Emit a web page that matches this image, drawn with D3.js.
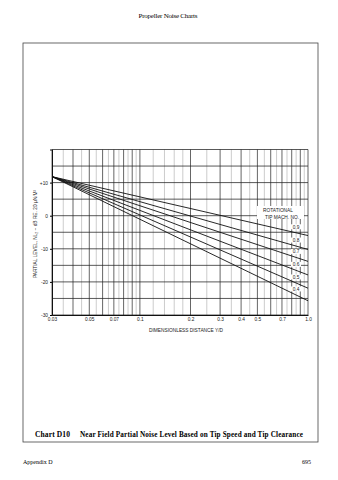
<!DOCTYPE html>
<html><head><meta charset="utf-8">
<script src="https://cdn.jsdelivr.net/npm/d3@7"></script>
<style>body{margin:0;background:#fff}svg{display:block}</style>
</head><body>
<script>
// ---- data ----
const xTickLabels = [0.03, 0.05, 0.07, 0.1, 0.2, 0.3, 0.4, 0.5, 0.7, 1.0];
const yTickLabels = [10, 0, -10, -20, -30];
const machNumbers = [0.9, 0.8, 0.7, 0.6, 0.5, 0.4];
const distance = [0.03, 1.0];
const levelM09 = [11.8, -6.0];
const levelM08 = [11.8, -10.2];
const levelM07 = [11.8, -13.8];
const levelM06 = [11.8, -17.9];
const levelM05 = [11.8, -21.9];
const levelM04 = [11.8, -25.7];
const majorGridX = [0.03,0.04,0.05,0.06,0.07,0.08,0.09,0.1,0.2,0.3,0.4,0.5,0.6,0.7,0.8,0.9,1.0];
const minorGridX = [0.035,0.045,0.055,0.065,0.075,0.085,0.095,0.12,0.14,0.16,0.18,0.25,0.35,0.45,0.55,0.65,0.75,0.85,0.95];
const gridY = [20,15,10,5,0,-5,-10,-15,-20,-25,-30];

const series = [levelM09, levelM08, levelM07, levelM06, levelM05, levelM04];

const W = 338, H = 480;
const svg = d3.select("body").append("svg").attr("width", W).attr("height", H);

const sans = "'Liberation Sans', Arial, sans-serif";
const serif = "'Liberation Serif', 'Times New Roman', serif";

// page header
svg.append("text").attr("x", 168).attr("y", 18).attr("text-anchor", "middle")
  .attr("font-family", serif).attr("font-size", 7).attr("textLength", 59).text("Propeller Noise Charts");

// frame
svg.append("rect").attr("x", 23).attr("y", 43).attr("width", 295).attr("height", 399)
  .attr("fill", "none").attr("stroke", "#444").attr("stroke-width", 0.8);

const x = d3.scaleLog().domain([0.03, 1.0]).range([52, 308]);
const y = d3.scaleLinear().domain([-30, 20]).range([315, 149.5]);

const g = svg.append("g");
g.selectAll(".vmin").data(minorGridX).join("line")
  .attr("x1", d => x(d)).attr("x2", d => x(d)).attr("y1", y(20)).attr("y2", y(-30))
  .attr("stroke", "#999").attr("stroke-width", 0.5);
g.selectAll(".vmaj").data(majorGridX).join("line")
  .attr("x1", d => x(d)).attr("x2", d => x(d)).attr("y1", y(20)).attr("y2", y(-30))
  .attr("stroke", "#333").attr("stroke-width", 0.75);
g.selectAll(".h").data(gridY).join("line")
  .attr("x1", x(0.03)).attr("x2", x(1.0)).attr("y1", d => y(d)).attr("y2", d => y(d))
  .attr("stroke", "#222").attr("stroke-width", 0.75);

// axes
const yAxis = d3.axisLeft(y).tickValues(yTickLabels).tickSize(2).tickPadding(2)
  .tickFormat(d => d > 0 ? "+" + d : d);
const ya = svg.append("g").attr("transform", `translate(${x(0.03)},0)`).call(yAxis);
ya.select(".domain").attr("stroke", "#111").attr("stroke-width", 1);
ya.selectAll("text").attr("font-family", sans).attr("font-size", 4.8).attr("fill", "#222");

const xAxis = d3.axisBottom(x).tickValues(xTickLabels).tickSize(0).tickPadding(3)
  .tickFormat(d => d === 1 ? "1.0" : String(d));
const xa = svg.append("g").attr("transform", `translate(0,${y(-30)})`).call(xAxis);
xa.select(".domain").attr("stroke", "#111").attr("stroke-width", 1);
xa.selectAll("text").attr("font-family", sans).attr("font-size", 4.8).attr("fill", "#222");

// lines
const line = d3.line().x((d, i) => x(distance[i])).y(d => y(d));
svg.selectAll(".ser").data(series).join("path")
  .attr("d", d => line(d)).attr("fill", "none").attr("stroke", "#111").attr("stroke-width", 0.9);

// mach labels
const lx = 296;
const lxData = x.invert(lx);
const t = (Math.log(lxData) - Math.log(distance[0])) / (Math.log(distance[1]) - Math.log(distance[0]));
series.forEach((s, i) => {
  const v = s[0] + (s[1] - s[0]) * t;
  const py = y(v) - 5;
  svg.append("rect").attr("x", lx - 5).attr("y", py - 3.5).attr("width", 10).attr("height", 5).attr("fill", "#fff");
  svg.append("text").attr("x", lx).attr("y", py + 0.8).attr("text-anchor", "middle")
    .attr("font-family", sans).attr("font-size", 4.8).attr("fill", "#222").text(machNumbers[i]);
});
svg.append("rect").attr("x", 257).attr("y", 206).attr("width", 47).attr("height", 13).attr("fill", "#fff");
svg.append("text").attr("x", 278).attr("y", 212).attr("text-anchor", "middle")
  .attr("font-family", sans).attr("font-size", 4.8).attr("fill", "#222").text("ROTATIONAL");
svg.append("text").attr("x", 282).attr("y", 218.5).attr("text-anchor", "middle")
  .attr("font-family", sans).attr("font-size", 4.8).attr("fill", "#222").text("TIP MACH. NO.");

// axis titles
svg.append("text").attr("transform", "translate(36.5,234) rotate(-90)").attr("text-anchor", "middle")
  .attr("font-family", sans).attr("font-size", 4.8).attr("fill", "#222")
  .text("PARTIAL LEVEL, NL\u2082 ~ dB RE. 20 \u03BCN/M\u00B2");
svg.append("text").attr("x", 186).attr("y", 332).attr("text-anchor", "middle")
  .attr("font-family", sans).attr("font-size", 4.8).attr("fill", "#222")
  .text("DIMENSIONLESS DISTANCE Y/D");

// caption
svg.append("text").attr("x", 35).attr("y", 437).attr("font-family", serif).attr("font-weight", "bold")
  .attr("font-size", 7.5).attr("textLength", 35).text("Chart D10");
svg.append("text").attr("x", 80).attr("y", 437).attr("font-family", serif).attr("font-weight", "bold")
  .attr("font-size", 7.2).attr("textLength", 223).text("Near Field Partial Noise Level Based on Tip Speed and Tip Clearance");

// footer
svg.append("text").attr("x", 23).attr("y", 464).attr("font-family", serif).attr("font-size", 6).text("Appendix D");
svg.append("text").attr("x", 311).attr("y", 464).attr("text-anchor", "end").attr("font-family", serif).attr("font-size", 6).text("695");
</script>
</body></html>
